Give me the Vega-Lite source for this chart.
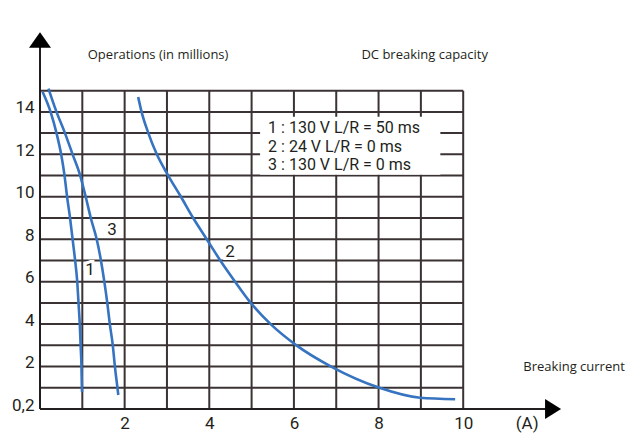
{
 "$schema": "https://vega.github.io/schema/vega-lite/v6.json",
 "width": 529,
 "height": 382,
 "autosize": {"type": "none"},
 "padding": {"left": 40, "top": 27, "right": 65, "bottom": 28},
 "background": "white",
 "config": {"view": {"stroke": null}},
 "encoding": {
  "x": {"field": "x", "type": "quantitative",
   "scale": {"domain": [0, 12.5], "nice": false, "zero": false},
   "axis": {"values": [2, 4, 6, 8, 10, 11.5], "labelExpr": "datum.value == 11.5 ? '(A)' : datum.label",
    "domain": false, "ticks": false, "grid": false, "title": null,
    "labelFont": "Roboto", "labelFontSize": 17, "labelColor": "#231f20",
    "labelPadding": 6, "labelFlush": false, "labelOverlap": false}},
  "y": {"field": "y", "type": "quantitative",
   "scale": {"domain": [0, 18], "nice": false, "zero": false},
   "axis": {"values": [0, 2, 4, 6, 8, 10, 12, 14], "labelExpr": "datum.value == 0 ? '0,2' : datum.label",
    "domain": false, "ticks": false, "grid": false, "title": null,
    "labelFont": "Roboto", "labelFontSize": 17, "labelColor": "#231f20",
    "labelPadding": 6, "labelBaseline": "alphabetic", "labelOffset": 1, "labelFlush": false, "labelOverlap": false}}
 },
 "layer": [
  {
   "data": {"values": [
    {"x": 1, "y": 0, "y2": 15}, {"x": 2, "y": 0, "y2": 15}, {"x": 3, "y": 0, "y2": 15},
    {"x": 4, "y": 0, "y2": 15}, {"x": 5, "y": 0, "y2": 15}, {"x": 6, "y": 0, "y2": 15},
    {"x": 7, "y": 0, "y2": 15}, {"x": 8, "y": 0, "y2": 15}, {"x": 9, "y": 0, "y2": 15},
    {"x": 10, "y": 0, "y2": 15}
   ]},
   "mark": {"type": "rule", "color": "#3b3333", "strokeWidth": 2},
   "encoding": {"y2": {"field": "y2"}}
  },
  {
   "data": {"values": [
    {"y": 1, "x": 0, "x2": 10}, {"y": 2, "x": 0, "x2": 10}, {"y": 3, "x": 0, "x2": 10},
    {"y": 4, "x": 0, "x2": 10}, {"y": 5, "x": 0, "x2": 10}, {"y": 6, "x": 0, "x2": 10},
    {"y": 7, "x": 0, "x2": 10}, {"y": 8, "x": 0, "x2": 10}, {"y": 9, "x": 0, "x2": 10},
    {"y": 10, "x": 0, "x2": 10}, {"y": 11, "x": 0, "x2": 10}, {"y": 12, "x": 0, "x2": 10},
    {"y": 13, "x": 0, "x2": 10}, {"y": 14, "x": 0, "x2": 10}, {"y": 15, "x": 0, "x2": 10}
   ]},
   "mark": {"type": "rule", "color": "#3b3333", "strokeWidth": 2},
   "encoding": {"x2": {"field": "x2"}}
  },
  {
   "data": {"values": [
    {"x": 0, "y": 0, "x2": 12, "y2": 0},
    {"x": 0, "y": 0, "x2": 0, "y2": 17.2}
   ]},
   "mark": {"type": "rule", "color": "#231f20", "strokeWidth": 2},
   "encoding": {"x2": {"field": "x2"}, "y2": {"field": "y2"}}
  },
  {
   "data": {"values": [{"x": 0, "y": 17.39}]},
   "mark": {"type": "point", "filled": true, "opacity": 1, "color": "#000000", "size": 484, "shape": "M-1,0.7L0,-0.7L1,0.7Z"}
  },
  {
   "data": {"values": [{"x": 12.1, "y": 0}]},
   "mark": {"type": "point", "filled": true, "opacity": 1, "color": "#000000", "size": 400, "shape": "M-0.7,-1L0.9,0L-0.7,1Z"}
  },
  {
   "data": {"values": [{"x": 5.2, "x2": 9.46, "y": 11.04, "y2": 13.77}]},
   "mark": {"type": "rect", "color": "white"},
   "encoding": {"x2": {"field": "x2"}, "y2": {"field": "y2"}}
  },
  {
   "data": {"values": [
    {"x": 5.39, "y": 13.24, "label": "1 : 130 V L/R = 50 ms"},
    {"x": 5.39, "y": 12.35, "label": "2 : 24 V L/R = 0 ms"},
    {"x": 5.39, "y": 11.48, "label": "3 : 130 V L/R = 0 ms"}
   ]},
   "mark": {"type": "text", "align": "left", "baseline": "middle", "font": "Roboto", "fontSize": 16, "color": "#231f20"},
   "encoding": {"text": {"field": "label"}}
  },
  {
   "data": {"values": [
    {"curve": "1", "x": 0.06, "y": 14.95}, {"curve": "1", "x": 0.25, "y": 14}, {"curve": "1", "x": 0.39, "y": 13},
    {"curve": "1", "x": 0.5, "y": 12}, {"curve": "1", "x": 0.58, "y": 11}, {"curve": "1", "x": 0.64, "y": 10},
    {"curve": "1", "x": 0.71, "y": 9}, {"curve": "1", "x": 0.77, "y": 8}, {"curve": "1", "x": 0.83, "y": 7},
    {"curve": "1", "x": 0.88, "y": 6}, {"curve": "1", "x": 0.91, "y": 5}, {"curve": "1", "x": 0.94, "y": 4},
    {"curve": "1", "x": 0.96, "y": 3}, {"curve": "1", "x": 0.98, "y": 2}, {"curve": "1", "x": 0.99, "y": 1},
    {"curve": "1", "x": 0.995, "y": 0.8},
    {"curve": "3", "x": 0.2, "y": 15.1}, {"curve": "3", "x": 0.39, "y": 14}, {"curve": "3", "x": 0.59, "y": 13},
    {"curve": "3", "x": 0.77, "y": 12}, {"curve": "3", "x": 0.95, "y": 11}, {"curve": "3", "x": 1.08, "y": 10},
    {"curve": "3", "x": 1.2, "y": 9}, {"curve": "3", "x": 1.34, "y": 8}, {"curve": "3", "x": 1.44, "y": 7},
    {"curve": "3", "x": 1.52, "y": 6}, {"curve": "3", "x": 1.59, "y": 5}, {"curve": "3", "x": 1.65, "y": 4},
    {"curve": "3", "x": 1.72, "y": 3}, {"curve": "3", "x": 1.77, "y": 2}, {"curve": "3", "x": 1.83, "y": 1},
    {"curve": "3", "x": 1.85, "y": 0.66},
    {"curve": "2", "x": 2.32, "y": 14.7}, {"curve": "2", "x": 2.4, "y": 14}, {"curve": "2", "x": 2.56, "y": 13},
    {"curve": "2", "x": 2.76, "y": 12}, {"curve": "2", "x": 3.03, "y": 11}, {"curve": "2", "x": 3.33, "y": 10},
    {"curve": "2", "x": 3.62, "y": 9}, {"curve": "2", "x": 3.94, "y": 8}, {"curve": "2", "x": 4.26, "y": 7},
    {"curve": "2", "x": 4.61, "y": 6}, {"curve": "2", "x": 4.98, "y": 5}, {"curve": "2", "x": 5.45, "y": 4},
    {"curve": "2", "x": 6.06, "y": 3}, {"curve": "2", "x": 6.88, "y": 2}, {"curve": "2", "x": 8.02, "y": 1},
    {"curve": "2", "x": 8.98, "y": 0.53}, {"curve": "2", "x": 9.81, "y": 0.46}
   ]},
   "mark": {"type": "line", "interpolate": "monotone", "color": "#3673c0", "strokeWidth": 2.6},
   "encoding": {"detail": {"field": "curve"}}
  },
  {
   "data": {"values": [
    {"x": 1.18, "y": 6.56, "label": "1"},
    {"x": 1.7, "y": 8.44, "label": "3"},
    {"x": 4.49, "y": 7.4, "label": "2"}
   ]},
   "mark": {"type": "text", "align": "center", "baseline": "middle", "font": "Roboto", "fontSize": 17, "color": "#231f20", "stroke": "white", "strokeWidth": 6},
   "encoding": {"text": {"field": "label"}}
  },
  {
   "data": {"values": [
    {"x": 1.18, "y": 6.56, "label": "1"},
    {"x": 1.7, "y": 8.44, "label": "3"},
    {"x": 4.49, "y": 7.4, "label": "2"}
   ]},
   "mark": {"type": "text", "align": "center", "baseline": "middle", "font": "Roboto", "fontSize": 17, "color": "#231f20"},
   "encoding": {"text": {"field": "label"}}
  },
  {
   "data": {"values": [
    {"x": 2.79, "y": 16.68, "label": "Operations (in millions)"},
    {"x": 9.09, "y": 16.68, "label": "DC breaking capacity"},
    {"x": 12.62, "y": 1.98, "label": "Breaking current"}
   ]},
   "mark": {"type": "text", "align": "center", "baseline": "middle", "font": "Open Sans", "fontSize": 13, "color": "#231f20"},
   "encoding": {"text": {"field": "label"}}
  }
 ]
}
